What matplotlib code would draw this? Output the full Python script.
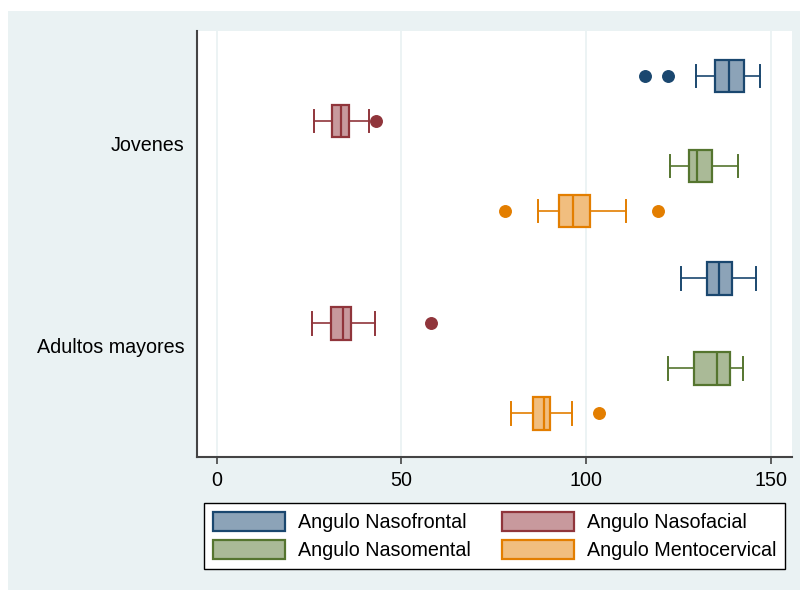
import matplotlib
matplotlib.use("Agg")
import matplotlib.pyplot as plt
from matplotlib.patches import Patch, Rectangle

plt.rcParams['font.family'] = ['Liberation Sans', 'DejaVu Sans']

grupos = ["Jovenes", "Adultos mayores"]
medidas = ["Angulo Nasofrontal", "Angulo Nasofacial",
           "Angulo Nasomental", "Angulo Mentocervical"]

# resumen de cada caja: bigote inferior, Q1, mediana, Q3, bigote superior
jovenes = [
    [129.7, 135.0, 138.8, 142.8, 147.2],
    [26.3, 31.3, 33.6, 35.7, 41.1],
    [122.7, 127.8, 130.0, 134.1, 141.3],
    [87.0, 92.6, 96.6, 101.0, 110.8],
]
jovenes_atipicos = [[116.0, 122.3], [43.1], [], [78.0, 119.6]]

adultos = [
    [125.7, 132.7, 136.1, 139.6, 146.1],
    [25.8, 30.8, 34.2, 36.3, 42.8],
    [122.3, 129.3, 135.4, 139.0, 142.5],
    [79.7, 85.6, 88.6, 90.3, 96.2],
]
adultos_atipicos = [[], [58.0], [], [103.6]]

linea = ["#1a476f", "#90353b", "#55752f", "#e37e00"]
relleno = ["#8ca3b8", "#c8999d", "#aaba97", "#f1be7f"]
fondo = "#eaf2f3"
tam = 14.2

fig = plt.figure(figsize=(8, 5.9), dpi=100, facecolor="white")
fig.patches.append(Rectangle((8 / 800, 0), 1, 579 / 590, transform=fig.transFigure,
                             facecolor=fondo, edgecolor="none", zorder=-10))

ax = fig.add_axes([197 / 800, 133 / 590, 595 / 800, 426 / 590])
ax.set_facecolor("white")

for g, (resumen, atipicos) in enumerate([(jovenes, jovenes_atipicos),
                                         (adultos, adultos_atipicos)]):
    for i in range(4):
        lo, q1, med, q3, hi = resumen[i]
        st = dict(whislo=lo, q1=q1, med=med, q3=q3, whishi=hi, fliers=atipicos[i])
        pos = g * 4.5 + i
        c = linea[i]
        ax.bxp([st], positions=[pos], vert=False, widths=0.73, capwidths=0.5,
               patch_artist=True,
               boxprops=dict(facecolor=relleno[i], edgecolor=c, linewidth=1.6),
               medianprops=dict(color=c, linewidth=1.6),
               whiskerprops=dict(color=c, linewidth=1.2),
               capprops=dict(color=c, linewidth=1.4),
               flierprops=dict(marker="o", markerfacecolor=c, markeredgecolor=c,
                               markersize=8.3, linestyle="none"),
               zorder=3)

ax.set_xlim(-5.4, 155.8)
ax.set_ylim(8.47, -1.0)
ax.set_xticks([0, 50, 100, 150])
ax.set_yticks([1.5, 6.0])
ax.set_yticklabels(grupos)
ax.grid(axis="x", color=fondo, linewidth=1.3, zorder=0)
ax.set_axisbelow(True)
ax.tick_params(axis="x", length=5, width=1.2, color="#444444", labelsize=tam, pad=5)
ax.tick_params(axis="y", length=0, labelsize=tam, pad=9)
for s in ["top", "right"]:
    ax.spines[s].set_visible(False)
for s in ["left", "bottom"]:
    ax.spines[s].set_color("#444444")
    ax.spines[s].set_linewidth(1.5)

# la leyenda se llena por columnas: reordenar para que quede por filas
orden = [0, 2, 1, 3]
handles = [Patch(facecolor=relleno[i], edgecolor=linea[i], linewidth=1.6) for i in orden]
leg = fig.legend(handles, [medidas[i] for i in orden], loc="upper left", ncol=2,
                 bbox_to_anchor=(204 / 800, 1 - 503 / 590), borderaxespad=0,
                 fontsize=tam, frameon=True, fancybox=False, edgecolor="black",
                 handlelength=3.65, handleheight=1.1, handletextpad=0.65,
                 columnspacing=1.6, labelspacing=0.4, borderpad=0.45)
leg.get_frame().set_linewidth(1.0)
leg.get_frame().set_facecolor("white")
leg.get_frame().set_alpha(None)

fig.savefig("out.png", dpi=100, facecolor=fig.get_facecolor())
